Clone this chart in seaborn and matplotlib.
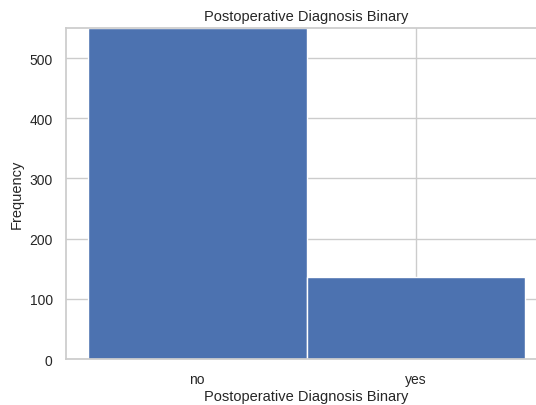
import pandas as pd
import matplotlib
matplotlib.use("Agg")
import matplotlib.pyplot as plt
import seaborn as sns

# data
categories = ["no", "yes"]
counts = [550, 136]

df = pd.DataFrame({"Postoperative Diagnosis Binary": categories, "count": counts})

sns.set_theme(style="whitegrid")
plt.rcParams["font.family"] = ["Liberation Sans", "DejaVu Sans"]

fig = plt.figure(figsize=(5.36, 4.06), dpi=100)
ax = fig.add_axes([0.123, 0.1133, 0.898, 0.8153])

sns.histplot(data=df, x="Postoperative Diagnosis Binary", weights="count",
             discrete=True, shrink=1, alpha=1, color="#4c72b0",
             edgecolor="white", linewidth=1, ax=ax)

ax.set_ylim(0, max(counts))
ax.set_xlim(-0.6, 1.6)
ax.set_title("Postoperative Diagnosis Binary", fontsize=10.5)
ax.set_xlabel("Postoperative Diagnosis Binary", fontsize=10.5, labelpad=2)
ax.set_ylabel("Frequency", fontsize=10.5)
ax.tick_params(labelsize=10)

fig.savefig("out.png", dpi=100)
